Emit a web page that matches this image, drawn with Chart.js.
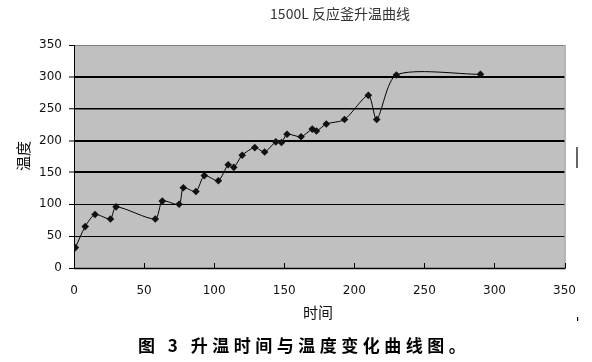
<!DOCTYPE html>
<html>
<head>
<meta charset="utf-8">
<script src="https://cdn.jsdelivr.net/npm/chart.js@4/dist/chart.umd.min.js"></script>
<style>
html,body{margin:0;padding:0;background:#fff;}
#wrap{width:592px;height:362px;position:relative;}
</style>
</head>
<body>
<div id="wrap"><canvas id="c" width="592" height="362"></canvas></div>
<script>
// Data
const times = [1, 8, 15, 26, 30, 58, 63, 75, 78, 87, 93, 103, 110, 114, 120, 129, 136, 144, 148, 152, 162, 170, 173, 180, 193, 210, 216, 230, 290];
const temps = [32, 65, 84, 77, 96, 77, 105, 100, 126, 120, 145, 137, 162, 158, 177, 189, 182, 198, 197, 210, 206, 218, 215, 226, 233, 271, 233, 303, 304];
const xTicks = [0, 50, 100, 150, 200, 250, 300, 350];
const yTicks = [0, 50, 100, 150, 200, 250, 300, 350];
const chartTitle = '1500L 反应釜升温曲线';
const xTitle = '时间';
const yTitle = '温度';
const caption = '图 3 升温时间与温度变化曲线图。';

const points = times.map((t, i) => ({x: t, y: temps[i]}));

const decor = {
  id: 'decor',
  beforeDraw(chart) {
    const {ctx, chartArea: a} = chart;
    ctx.save();
    ctx.fillStyle = '#c0c0c0';
    ctx.fillRect(a.left, a.top, a.right - a.left, a.bottom - a.top);
    ctx.restore();
  },
  afterDraw(chart) {
    const {ctx, chartArea: a, scales} = chart;
    ctx.save();
    // right border
    ctx.strokeStyle = '#808080';
    ctx.lineWidth = 1;
    ctx.beginPath();
    ctx.moveTo(a.right + 0.5, a.top);
    ctx.lineTo(a.right + 0.5, a.bottom);
    ctx.stroke();
    // inward x ticks
    ctx.strokeStyle = '#000';
    ctx.lineWidth = 1;
    xTicks.forEach(v => {
      const px = Math.round(scales.x.getPixelForValue(v)) + 0.5;
      ctx.beginPath();
      ctx.moveTo(px, a.bottom);
      ctx.lineTo(px, a.bottom - 5);
      ctx.stroke();
    });
    // bottom axis line
    ctx.lineWidth = 1.5;
    ctx.beginPath();
    ctx.moveTo(a.left, a.bottom + 0.5);
    ctx.lineTo(a.right + 1, a.bottom + 0.5);
    ctx.stroke();
    // texts
    ctx.fillStyle = '#333';
    ctx.textAlign = 'center';
    ctx.textBaseline = 'middle';
    ctx.font = '14px "Noto Sans CJK SC"';
    ctx.fillText(chartTitle, 340, 14);
    ctx.fillStyle = '#111';
    ctx.font = '15px "Noto Sans CJK SC"';
    ctx.fillText(xTitle, 318, 312);
    ctx.save();
    ctx.translate(23, 156);
    ctx.rotate(-Math.PI / 2);
    ctx.fillText(yTitle, 0, 0);
    ctx.restore();
    ctx.fillStyle = '#000';
    ctx.font = 'bold 17px "Noto Sans CJK SC"';
    ctx.textAlign = 'left';
    ctx.letterSpacing = '4.5px';
    ctx.fillText(caption, 138, 346);
    ctx.letterSpacing = '0px';
    // stray marks in the reference
    ctx.strokeStyle = '#000';
    ctx.lineWidth = 1.2;
    ctx.beginPath();
    ctx.moveTo(577, 147);
    ctx.lineTo(577, 168);
    ctx.stroke();
    ctx.fillRect(577, 317, 1.2, 4);
    ctx.restore();
  }
};

new Chart(document.getElementById('c'), {
  type: 'line',
  data: {
    datasets: [{
      data: points,
      borderColor: '#000',
      borderWidth: 1,
      backgroundColor: '#000',
      pointStyle: 'rectRot',
      pointRadius: 3.8,
      pointBorderWidth: 0,
      pointBackgroundColor: '#111',
      tension: 0.25,
      fill: false
    }]
  },
  options: {
    responsive: false,
    animation: false,
    devicePixelRatio: 1,
    layout: {padding: {left: 0, right: 26, top: 45, bottom: 0}},
    plugins: {legend: {display: false}, title: {display: false}, tooltip: {enabled: false}},
    scales: {
      x: {
        type: 'linear',
        min: 0, max: 350,
        afterBuildTicks: s => { s.ticks = xTicks.map(v => ({value: v})); },
        afterFit: s => { s.height = 94; },
        grid: {display: false, drawTicks: false},
        border: {display: false},
        ticks: {padding: 16, color: '#111', font: {family: 'DejaVu Sans', size: 12}, maxRotation: 0}
      },
      y: {
        min: 0, max: 350,
        afterBuildTicks: s => { s.ticks = yTicks.map(v => ({value: v})); },
        afterFit: s => { s.width = 74; },
        grid: {
          color: ctx => (ctx.tick && ctx.tick.value === 350) ? '#808080' : '#000',
          lineWidth: ctx => {
            const v = ctx.tick ? ctx.tick.value : 0;
            if (v === 150 || v === 200 || v === 300) return 2;
            if (v === 250) return 1.5;
            return 1;
          },
          tickLength: 5,
          tickColor: '#000',
          tickWidth: 1
        },
        border: {display: true, color: '#000', width: 1},
        ticks: {padding: 7, color: '#111', font: {family: 'DejaVu Sans', size: 12}}
      }
    }
  },
  plugins: [decor]
});
</script>
</body>
</html>
